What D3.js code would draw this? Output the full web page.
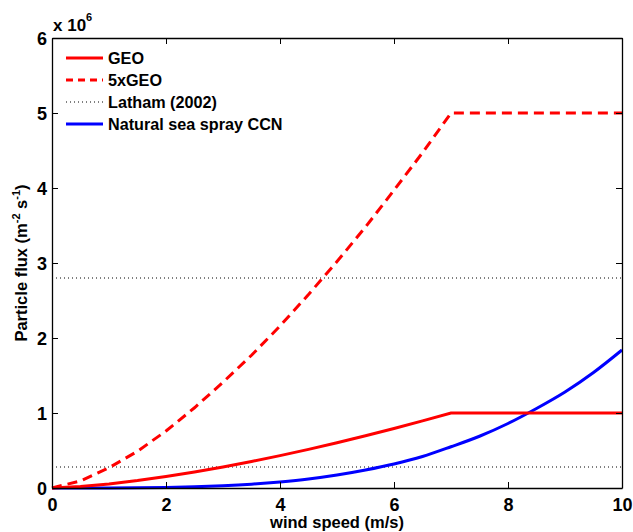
<!DOCTYPE html>
<html><head><meta charset="utf-8">
<script src="https://cdn.jsdelivr.net/npm/d3@7"></script>
<style>
body{margin:0;background:#fff;}
text{font-family:"Liberation Sans",Arial,sans-serif;font-weight:bold;}
</style></head>
<body><svg id="c" width="633" height="532"></svg>
<script>
// wind speed (m/s)
const windSpeed = [0,0.5,1,1.5,2,2.5,3,3.5,4,4.5,5,5.5,6,6.5,7,7.5,8,8.5,9,9.5,10];
// particle flux, units of 1e6 m^-2 s^-1
const geo = [0,0.019,0.054,0.099,0.153,0.214,0.281,0.354,0.432,0.515,0.604,0.696,0.794,0.895,1.0,1.0,1.0,1.0,1.0,1.0,1.0];
const geo5 = [0,0.095,0.27,0.49,0.76,1.07,1.41,1.77,2.16,2.58,3.02,3.48,3.97,4.47,5.0,5.0,5.0,5.0,5.0,5.0,5.0];
const seaSpray = [0,0.0001,0.0007,0.003,0.008,0.016,0.030,0.051,0.081,0.12,0.173,0.24,0.32,0.42,0.55,0.69,0.86,1.06,1.28,1.54,1.84];
const latham = [0.28, 2.8];
const xTicks = [0,2,4,6,8,10];
const yTicks = [0,1,2,3,4,5,6];
const legendLabels = ["GEO","5xGEO","Latham (2002)","Natural sea spray CCN"];

const svg = d3.select("#c");
const L=52,R=622,T=38,B=488;
const x = d3.scaleLinear().domain([0,10]).range([L,R]);
const y = d3.scaleLinear().domain([0,6]).range([B,T]);

const g = svg.append("g");
latham.forEach(v=>{
  g.append("line").attr("x1",x(0)).attr("x2",x(10)).attr("y1",y(v)).attr("y2",y(v))
   .attr("stroke","#000").attr("stroke-width",1).attr("stroke-dasharray","1,3");
});
const line = d3.line().x((d,i)=>x(windSpeed[i])).y(d=>y(d));
const smooth = d3.line().x((d,i)=>x(windSpeed[i])).y(d=>y(d)).curve(d3.curveMonotoneX);
g.append("path").datum(seaSpray).attr("d",smooth).attr("fill","none").attr("stroke","#0000ff").attr("stroke-width",3);
g.append("path").datum(geo).attr("d",line).attr("fill","none").attr("stroke","#ff0000").attr("stroke-width",3);
g.append("path").datum(geo5).attr("d",line).attr("fill","none").attr("stroke","#ff0000").attr("stroke-width",3).attr("stroke-dasharray","10,6");

const fmt = d3.format("d");
const ax = svg.append("g").attr("transform",`translate(0,${B})`)
  .call(d3.axisBottom(x).tickValues(xTicks).tickSizeInner(-6).tickSizeOuter(0).tickPadding(10).tickFormat(fmt));
const axT = svg.append("g").attr("transform",`translate(0,${T})`)
  .call(d3.axisTop(x).tickValues(xTicks).tickSizeInner(-6).tickSizeOuter(0).tickFormat(""));
const ay = svg.append("g").attr("transform",`translate(${L},0)`)
  .call(d3.axisLeft(y).tickValues(yTicks).tickSizeInner(-6).tickSizeOuter(0).tickPadding(5).tickFormat(fmt));
const ayR = svg.append("g").attr("transform",`translate(${R},0)`)
  .call(d3.axisRight(y).tickValues(yTicks).tickSizeInner(-6).tickSizeOuter(0).tickFormat(""));
[ax,axT,ay,ayR].forEach(a=>{
  a.selectAll("path").attr("stroke","#000").attr("stroke-width",1.3);
  a.selectAll("line").attr("stroke","#000");
  a.selectAll("text").attr("font-size",18).attr("fill","#000").attr("font-family","Liberation Sans,Arial,sans-serif").attr("font-weight","bold");
});
ay.selectAll("text").attr("dy","0.35em");

const ex = svg.append("text").attr("x",53).attr("y",31).attr("font-size",17);
ex.append("tspan").text("x 10");
ex.append("tspan").attr("font-size",11).attr("dy",-10).text("6");

svg.append("text").attr("x",(L+R)/2).attr("y",528).attr("text-anchor","middle").attr("font-size",16.5).text("wind speed (m/s)");
const yl = svg.append("text").attr("transform",`translate(27,${(T+B)/2}) rotate(-90)`).attr("text-anchor","middle").attr("font-size",16.5);
yl.append("tspan").text("Particle flux (m");
yl.append("tspan").attr("font-size",11).attr("dy",-7).text("-2");
yl.append("tspan").attr("dy",7).text(" s");
yl.append("tspan").attr("font-size",11).attr("dy",-7).text("-1");
yl.append("tspan").attr("dy",7).text(")");

const styles = [
  {c:"#ff0000",w:3,d:null},
  {c:"#ff0000",w:3,d:"7,5"},
  {c:"#000",w:1,d:"1,3"},
  {c:"#0000ff",w:3,d:null}
];
legendLabels.forEach((lab,i)=>{
  const yy = 58 + i*22;
  svg.append("line").attr("x1",66).attr("x2",103).attr("y1",yy).attr("y2",yy)
    .attr("stroke",styles[i].c).attr("stroke-width",styles[i].w).attr("stroke-dasharray",styles[i].d);
  svg.append("text").attr("x",108).attr("y",yy+6).attr("font-size",16.2).text(lab);
});
</script></body></html>
